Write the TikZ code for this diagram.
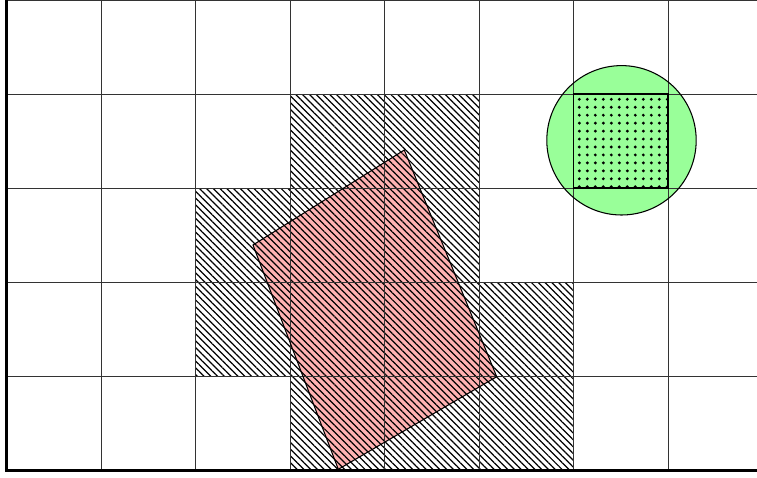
\documentclass[tikz,border=0pt]{standalone}
\usetikzlibrary{patterns.meta}
\begin{document}
\begin{tikzpicture}[x=0.03cm,y=-0.03cm,
  gridline/.style={black!80,line width=0.8pt},
  axisline/.style={black,line width=3pt,line join=miter},
  hatchfill/.style={pattern={Lines[angle=-45,distance=4.1pt,line width=1.05pt]},pattern color=black},
  quadfill/.style={fill=red!30},
  quadline/.style={draw=black,line width=0.9pt,line join=miter},
  discfill/.style={fill=green!40},
  discline/.style={draw=black,line width=0.9pt},
  squareline/.style={draw=black,line width=1.3pt},
  dotmark/.style={fill=black}]
\useasboundingbox (0,0) rectangle (757,478);
\fill[white] (0,0) rectangle (757,478);
% tilted quadrilateral (fill)
\coordinate (qT) at (404.3,150);
\coordinate (qR) at (496.7,376.7);
\coordinate (qB) at (338.3,469.3);
\coordinate (qL) at (253,245);
\fill[quadfill] (qT) -- (qR) -- (qB) -- (qL) -- cycle;
% disc (fill)
\coordinate (dc) at (621.5,140.3);
\fill[discfill] (dc) circle[radius=74.7];
% hatched cells
\fill[hatchfill]
  (290.3,94) rectangle (479.2,188)
  (195.9,188) rectangle (479.2,282)
  (195.9,282) rectangle (573.6,376)
  (290.3,376) rectangle (573.6,470);
% dots
\foreach \i in {0,...,11}{
  \foreach \j in {0,...,11}{
    \fill[dotmark] ({579.3+8.0*\i},{99.3+7.95*\j}) circle[radius=1.6];
  }
}
% grid
\foreach \i in {1,...,7}{
  \draw[gridline] ({7+94.43*\i},0) -- ({7+94.43*\i},470);
}
\foreach \y in {0.5,94,188,282,376}{
  \draw[gridline] (7,\y) -- (757,\y);
}
% outlines
\draw[quadline] (qT) -- (qR) -- (qB) -- (qL) -- cycle;
\draw[discline] (dc) circle[radius=74.7];
\draw[squareline] (573.6,94) rectangle (668,188);
% axes
\draw[axisline] (6.5,0) -- (6.5,470.3) -- (757,470.3);
\end{tikzpicture}
\end{document}
